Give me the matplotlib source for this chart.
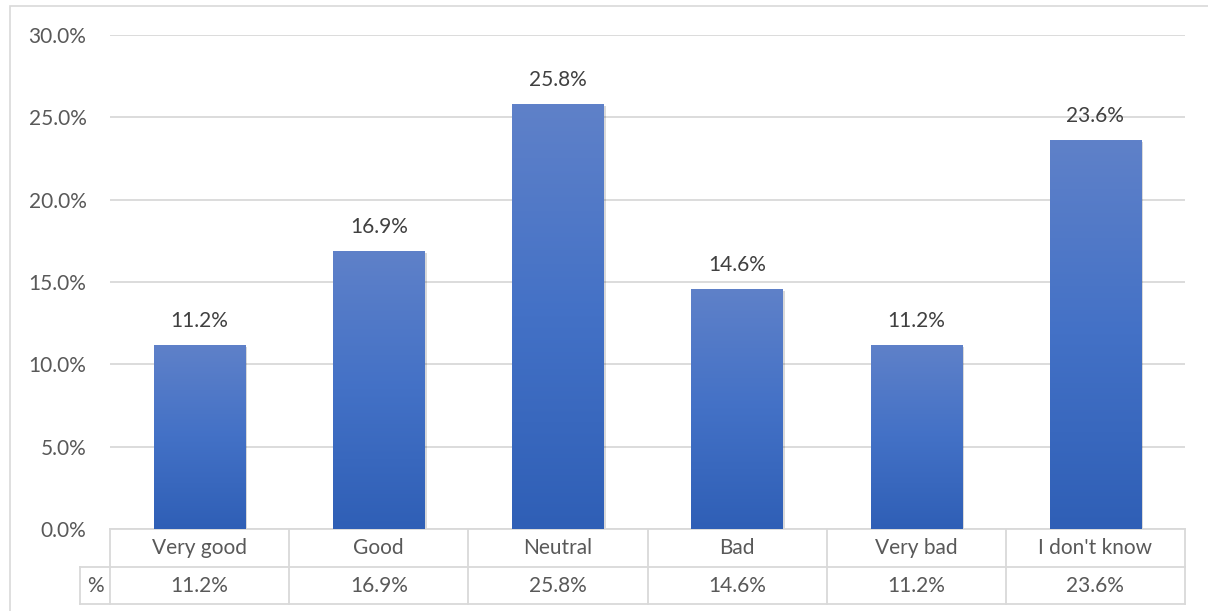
import matplotlib
matplotlib.use("Agg")
import matplotlib.pyplot as plt
import numpy as np
from matplotlib.patches import Rectangle
from matplotlib.colors import LinearSegmentedColormap
import matplotlib.patheffects as pe

categories = ["Very good", "Good", "Neutral", "Bad", "Very bad", "I don't know"]
values = [11.2, 16.9, 25.8, 14.6, 11.2, 23.6]
yticks = [0, 5, 10, 15, 20, 25, 30]
series_name = "%"

plt.rcParams['font.family'] = ['Lato', 'DejaVu Sans']
FS = 15
W, H = 1208, 611
fig = plt.figure(figsize=(W / 100, H / 100), dpi=100)
fig.patch.set_facecolor("white")

# outer chart border
fig.patches.append(Rectangle((10 / W, -0.05), 1.2, (H - 6) / H + 0.05,
                             transform=fig.transFigure, fill=False,
                             edgecolor="#d9d9d9", linewidth=1.2))

left, right, top, bottom = 110, 1185, 35, 529
ax = fig.add_axes([left / W, (H - bottom) / H, (right - left) / W, (bottom - top) / H])
ax.set_xlim(-0.5, len(categories) - 0.5)
ax.set_ylim(0, 30)
for s in ax.spines.values():
    s.set_visible(False)
ax.set_yticks(yticks)
ax.set_yticklabels([f"{t:.1f}%" for t in yticks], fontsize=FS, color="#595959")
ax.tick_params(axis="y", length=0, pad=17)
ax.set_xticks([])
ax.grid(axis="y", color="#d9d9d9", linewidth=1.3)
ax.set_axisbelow(True)

x = np.arange(len(categories))
bars = ax.bar(x, values, width=0.51, color="#4472c4", zorder=2,
              path_effects=[pe.SimplePatchShadow(offset=(1.5, -1.5), shadow_rgbFace="#000000", alpha=0.15),
                            pe.Normal()])
cmap = LinearSegmentedColormap.from_list("g", ["#2f5fb6", "#4371c6", "#5f81c9"])
grad = np.linspace(0, 1, 256).reshape(-1, 1)
for b in bars:
    x0, y0, w, h = b.get_x(), b.get_y(), b.get_width(), b.get_height()
    im = ax.imshow(grad, cmap=cmap, origin="lower", aspect="auto",
                   extent=[x0, x0 + w, y0, y0 + h], zorder=3)
    im.set_clip_path(b)
    ax.annotate(f"{h:.1f}%", (x0 + w / 2, h), xytext=(0, 10), textcoords="offset points",
                ha="center", va="bottom", fontsize=FS, color="#404040")
ax.set_xlim(-0.5, len(categories) - 0.5)
ax.set_ylim(0, 30)

# data table
lc = "#d9d9d9"
ph = bottom - top
r1 = -(567 - bottom) / ph * 30
r2 = -(604 - bottom) / ph * 30
pct_left = -0.5 - (110 - 80) / ((right - left) / len(categories))
kw = dict(color=lc, linewidth=1.3, clip_on=False)
ax.plot([-0.5, 5.5], [0, 0], **kw)
ax.plot([pct_left, 5.5], [r1, r1], **kw)
ax.plot([pct_left, 5.5], [r2, r2], **kw)
ax.plot([pct_left, pct_left], [r1, r2], **kw)
for i in range(len(categories) + 1):
    ax.plot([i - 0.5, i - 0.5], [0, r2], **kw)
for i, (c, v) in enumerate(zip(categories, values)):
    ax.text(i, r1 / 2, c, ha="center", va="center", fontsize=FS, color="#595959")
    ax.text(i, (r1 + r2) / 2, f"{v:.1f}%", ha="center", va="center", fontsize=FS, color="#595959")
ax.text((pct_left - 0.5) / 2, (r1 + r2) / 2, series_name, ha="center", va="center",
        fontsize=FS, color="#595959")

fig.savefig("out.png", dpi=100)
